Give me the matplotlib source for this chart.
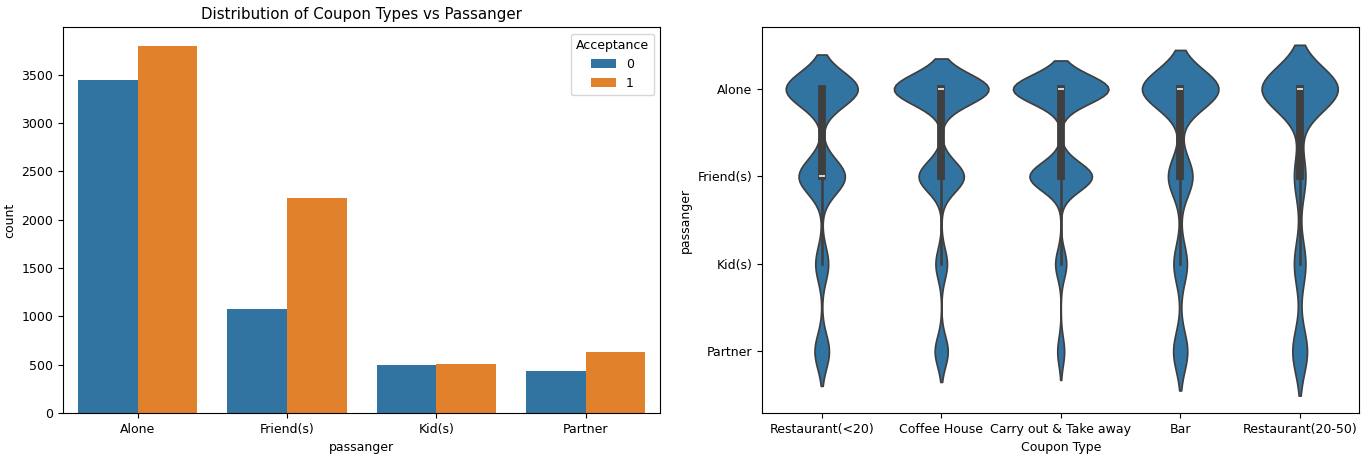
import matplotlib
matplotlib.use("Agg")
from matplotlib import pyplot as plt
import seaborn as sns
import pandas as pd
import numpy as np

plt.rcParams["font.size"] = 9

# Countplot data
passengers = ["Alone", "Friend(s)", "Kid(s)", "Partner"]
count_0 = [3450, 1080, 495, 435]
count_1 = [3800, 2220, 510, 635]

# Violin data: rows per coupon type per passenger (estimated counts)
coupons = ["Restaurant(<20)", "Coffee House", "Carry out & Take away", "Bar", "Restaurant(20-50)"]
alone = [1400, 2300, 1300, 1250, 1000]
friends = [900, 1100, 850, 400, 150]
kids = [250, 280, 150, 220, 150]
partner = [280, 316, 93, 230, 192]

cnt = pd.DataFrame({
    "passanger": passengers * 2,
    "Acceptance": [0] * 4 + [1] * 4,
    "count": count_0 + count_1,
})

rows = []
for i, c in enumerate(coupons):
    for code, n in enumerate([alone[i], friends[i], kids[i], partner[i]]):
        rows.append(pd.DataFrame({"Coupon Type": [c] * n, "code": [code] * n}))
vdf = pd.concat(rows, ignore_index=True)

fig, (ax1, ax2) = plt.subplots(1, 2, figsize=(13.69, 4.55), dpi=100)

sns.barplot(data=cnt, x="passanger", y="count", hue="Acceptance", ax=ax1)
ax1.set_title("Distribution of Coupon Types vs Passanger")

sns.violinplot(data=vdf, x="Coupon Type", y="code", ax=ax2, color="tab:blue", saturation=0.75)
ax2.set_yticks(range(4))
ax2.set_yticklabels(passengers)
ax2.set_ylabel("passanger")
ax2.invert_yaxis()

plt.subplots_adjust(left=0.046, right=0.993, top=0.94, bottom=0.092, wspace=0.17)
plt.savefig("out.png")
